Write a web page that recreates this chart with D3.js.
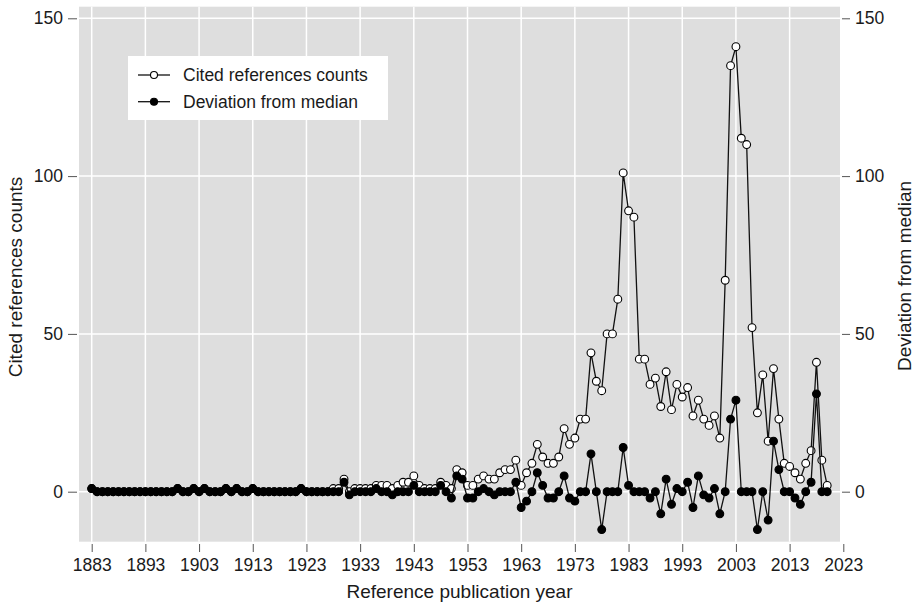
<!DOCTYPE html>
<html>
<head>
<meta charset="utf-8">
<script src="https://cdnjs.cloudflare.com/ajax/libs/d3/7.8.5/d3.min.js"></script>
<style>
  body { margin: 0; background: #ffffff; }
  text { font-family: "Liberation Sans", Arial, sans-serif; fill: #1a1a1a; }
</style>
</head>
<body>
<script>

// publication years, one value per year from 1883 to 2020
var years = d3.range(1883, 2021);

// cited references counts per year
var counts = [
  1, 0, 0, 0, 0, 0, 0, 0, 0, 0, 0, 0, 0, 0, 0, 0, 1,            // 1883-1899
  0, 0, 1, 0, 1, 0, 0, 0, 1, 0,                                // 1900-1909
  1, 0, 0, 1, 0, 0, 0, 0, 0, 0,                                // 1910-1919
  0, 0, 1, 0, 0, 0, 0, 0, 1, 1,                                // 1920-1929
  4, 0, 1, 1, 1, 1, 2, 2, 2, 1,                                // 1930-1939
  2, 3, 3, 5, 2, 1, 1, 1, 3, 2,                                // 1940-1949
  1, 7, 6, 2, 2, 4, 5, 4, 4, 6,                                // 1950-1959
  7, 7, 10, 2, 6, 9, 15, 11, 9, 9,                             // 1960-1969
  11, 20, 15, 17, 23, 23, 44, 35, 32, 50,                      // 1970-1979
  50, 61, 101, 89, 87, 42, 42, 34, 36, 27,                     // 1980-1989
  38, 26, 34, 30, 33, 24, 29, 23, 21, 24,                      // 1990-1999
  17, 67, 135, 141, 112, 110, 52, 25, 37, 16,                  // 2000-2009
  39, 23, 9, 8, 6, 4, 9, 13, 41, 10,                           // 2010-2019
  2                                                            // 2020
];

// deviation from median per year
var deviation = [
  1, 0, 0, 0, 0, 0, 0, 0, 0, 0, 0, 0, 0, 0, 0, 0, 1,            // 1883-1899
  0, 0, 1, 0, 1, 0, 0, 0, 1, 0,                                // 1900-1909
  1, 0, 0, 1, 0, 0, 0, 0, 0, 0,                                // 1910-1919
  0, 0, 1, 0, 0, 0, 0, 0, 0, 0,                                // 1920-1929
  3, -1, 0, 0, 0, 0, 1, 0, 0, -1,                              // 1930-1939
  0, 0, 0, 2, 0, 0, 0, 0, 2, 0,                                // 1940-1949
  -2, 5, 4, -2, -2, 0, 1, 0, -1, 0,                            // 1950-1959
  0, 0, 3, -5, -3, 0, 6, 2, -2, -2,                            // 1960-1969
  0, 5, -2, -3, 0, 0, 12, 0, -12, 0,                           // 1970-1979
  0, 0, 14, 2, 0, 0, 0, -2, 0, -7,                             // 1980-1989
  4, -4, 1, 0, 3, -5, 5, -1, -2, 1,                            // 1990-1999
  -7, 0, 23, 29, 0, 0, 0, -12, 0, -9,                          // 2000-2009
  16, 7, 0, 0, -2, -4, 0, 3, 31, 0,                            // 2010-2019
  0                                                            // 2020
];

// tick labels
var xTicks = [1883, 1893, 1903, 1913, 1923, 1933, 1943, 1953, 1963, 1973, 1983, 1993, 2003, 2013, 2023];
var yTicks = [0, 50, 100, 150];

var seriesNames = ["Cited references counts", "Deviation from median"];

window.onload = function() {
  drawChart(917, 603);
};

function drawChart(width, height) {

  // plot area
  var plotLeft = 79, plotRight = 840, plotTop = 6.7, plotBottom = 541.7;

  var xScale = d3.scaleLinear()
                 .domain([1883, 2023])
                 .range([91.7, 843.3]);

  var yScale = d3.scaleLinear()
                 .domain([0, 150])
                 .range([491.7, 18.3]);

  var svg = d3.select("body")
              .append("svg")
              .attr("width", width)
              .attr("height", height);

  // grey background
  svg.append("rect")
     .attr("x", plotLeft)
     .attr("y", plotTop)
     .attr("width", plotRight - plotLeft)
     .attr("height", plotBottom - plotTop)
     .attr("fill", "#dedede");

  // vertical grid lines, only those inside the plot
  svg.selectAll(".vgrid")
     .data(xTicks.filter(function(d) { return xScale(d) <= plotRight; }))
     .enter()
     .append("line")
     .attr("class", "vgrid")
     .attr("x1", function(d) { return xScale(d); })
     .attr("x2", function(d) { return xScale(d); })
     .attr("y1", plotTop)
     .attr("y2", plotBottom)
     .attr("stroke", "#ffffff")
     .attr("stroke-width", 1.5);

  // horizontal grid lines
  svg.selectAll(".hgrid")
     .data(yTicks)
     .enter()
     .append("line")
     .attr("class", "hgrid")
     .attr("x1", plotLeft)
     .attr("x2", plotRight)
     .attr("y1", function(d) { return yScale(d); })
     .attr("y2", function(d) { return yScale(d); })
     .attr("stroke", "#ffffff")
     .attr("stroke-width", 1.5);

  createAxis(svg, xScale, yScale, plotLeft, plotRight, plotBottom);

  // draw both series, deviation on top
  drawSeries(svg, counts, "#ffffff", xScale, yScale);
  drawSeries(svg, deviation, "#000000", xScale, yScale);

  createLegend(svg);
}

function drawSeries(svg, values, fill, xScale, yScale) {

  var points = years.map(function(year, i) { return [year, values[i]]; });

  var line = d3.line()
               .x(function(d) { return xScale(d[0]); })
               .y(function(d) { return yScale(d[1]); });

  svg.append("path")
     .datum(points)
     .attr("d", line)
     .attr("fill", "none")
     .attr("stroke", "#111111")
     .attr("stroke-width", 1.3);

  svg.append("g")
     .selectAll("circle")
     .data(points)
     .enter()
     .append("circle")
     .attr("cx", function(d) { return xScale(d[0]); })
     .attr("cy", function(d) { return yScale(d[1]); })
     .attr("r", 3.9)
     .attr("fill", fill)
     .attr("stroke", "#000000")
     .attr("stroke-width", 1.1);
}

function createAxis(svg, xScale, yScale, plotLeft, plotRight, plotBottom) {

  // bottom axis
  var xAxis = d3.axisBottom(xScale)
                .tickValues(xTicks)
                .tickFormat(d3.format("d"))
                .tickSize(8)
                .tickPadding(7);

  var gx = svg.append("g")
              .attr("transform", "translate(0," + (plotBottom + 2.3) + ")")
              .call(xAxis);

  // left axis
  var yAxisLeft = d3.axisLeft(yScale)
                    .tickValues(yTicks)
                    .tickSize(9)
                    .tickPadding(5);

  var gl = svg.append("g")
              .attr("transform", "translate(" + (plotLeft - 2) + ",0)")
              .call(yAxisLeft);

  // right axis
  var yAxisRight = d3.axisRight(yScale)
                     .tickValues(yTicks)
                     .tickSize(8)
                     .tickPadding(5);

  var gr = svg.append("g")
              .attr("transform", "translate(" + (plotRight + 2) + ",0)")
              .call(yAxisRight);

  [gx, gl, gr].forEach(function(g) {
    g.select(".domain").remove();
    g.selectAll(".tick line").attr("stroke", "#555555").attr("stroke-width", 1);
    g.selectAll(".tick text")
     .attr("fill", "#1a1a1a")
     .style("font-size", "17.5px")
     .style("font-family", "'Liberation Sans', Arial, sans-serif");
  });

  // axis titles
  svg.append("text")
     .attr("x", (plotLeft + plotRight) / 2)
     .attr("y", 598)
     .attr("text-anchor", "middle")
     .style("font-size", "19px")
     .text("Reference publication year");

  svg.append("text")
     .attr("transform", "translate(22,277) rotate(-90)")
     .attr("text-anchor", "middle")
     .style("font-size", "19px")
     .text(seriesNames[0]);

  svg.append("text")
     .attr("transform", "translate(911,276) rotate(-90)")
     .attr("text-anchor", "middle")
     .style("font-size", "19px")
     .text(seriesNames[1]);
}

function createLegend(svg) {

  svg.append("rect")
     .attr("x", 128)
     .attr("y", 56)
     .attr("width", 260)
     .attr("height", 64)
     .attr("fill", "#ffffff");

  var fills = ["#ffffff", "#000000"];

  var legend = svg.selectAll(".legend")
                  .data(seriesNames)
                  .enter()
                  .append("g")
                  .attr("class", "legend")
                  .attr("transform", function(d, i) {
                    return "translate(0," + (75 + i * 26.7) + ")";
                  });

  legend.append("line")
        .attr("x1", 138)
        .attr("x2", 170)
        .attr("y1", 0)
        .attr("y2", 0)
        .attr("stroke", "#111111")
        .attr("stroke-width", 1.3);

  legend.append("circle")
        .attr("cx", 154)
        .attr("cy", 0)
        .attr("r", 3.5)
        .attr("fill", function(d, i) { return fills[i]; })
        .attr("stroke", "#000000")
        .attr("stroke-width", 1.1);

  legend.append("text")
        .attr("x", 183)
        .attr("y", 6)
        .style("font-size", "17.5px")
        .text(function(d) { return d; });
}
</script>
</body>
</html>
